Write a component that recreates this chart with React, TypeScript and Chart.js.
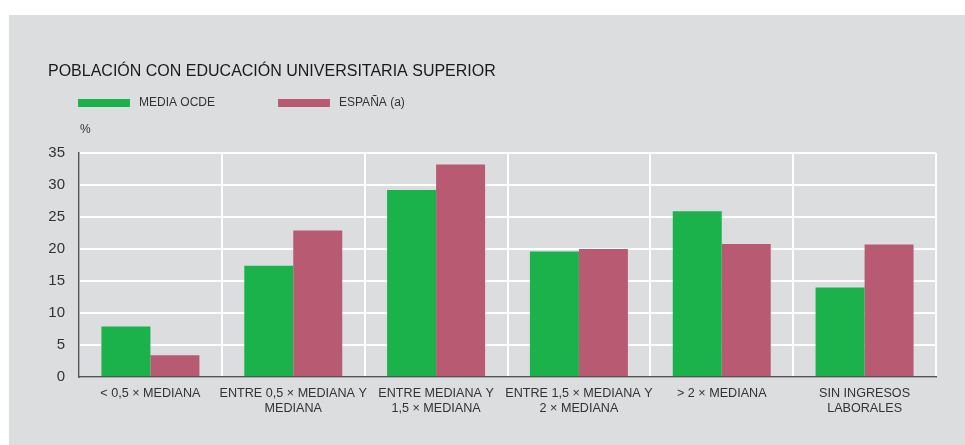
import React, { useEffect, useRef } from "react";
import { Chart, registerables } from "chart.js";

Chart.register(...registerables);

const titleText = "POBLACIÓN CON EDUCACIÓN UNIVERSITARIA SUPERIOR";
const unitLabel = "%";
const categories: string[][] = [
  ["< 0,5 × MEDIANA"],
  ["ENTRE 0,5 × MEDIANA Y", "MEDIANA"],
  ["ENTRE MEDIANA Y", "1,5 × MEDIANA"],
  ["ENTRE 1,5 × MEDIANA Y", "2 × MEDIANA"],
  ["> 2 × MEDIANA"],
  ["SIN INGRESOS", "LABORALES"],
];
const seriesNames = ["MEDIA OCDE", "ESPAÑA (a)"];
const ocdeValues = [7.9, 17.4, 29.2, 19.6, 25.9, 14.0];
const espanaValues = [3.4, 22.9, 33.2, 20.0, 20.8, 20.7];
const yTicks = [0, 5, 10, 15, 20, 25, 30, 35];

const FONT = "'Liberation Sans', Arial, sans-serif";
const GREEN = "#1bb24c";
const PINK = "#b95a73";

const headerPlugin = {
  id: "header",
  afterDraw(chart: any) {
    const ctx = chart.ctx;
    ctx.save();
    ctx.fillStyle = "#1a1a1a";
    ctx.font = `16px ${FONT}`;
    ctx.textBaseline = "middle";
    ctx.textAlign = "left";
    ctx.fillText(titleText, 39, 57);
    const items = [
      { x: 69, color: GREEN, label: chart.data.datasets[0].label },
      { x: 269, color: PINK, label: chart.data.datasets[1].label },
    ];
    ctx.font = `12px ${FONT}`;
    items.forEach((it) => {
      ctx.fillStyle = it.color;
      ctx.fillRect(it.x, 84, 52, 8);
      ctx.fillStyle = "#333";
      ctx.fillText(it.label, it.x + 61, 88);
    });
    ctx.fillStyle = "#333";
    ctx.fillText(unitLabel, 71, 115);
    ctx.restore();
  },
};

export default function App() {
  const ref = useRef<HTMLCanvasElement>(null);
  useEffect(() => {
    if (!ref.current) return;
    const chart = new Chart(ref.current, {
      type: "bar",
      data: {
        labels: categories,
        datasets: [
          {
            label: seriesNames[0],
            data: ocdeValues,
            backgroundColor: GREEN,
            borderWidth: 0,
            categoryPercentage: 0.686,
            barPercentage: 1,
          },
          {
            label: seriesNames[1],
            data: espanaValues,
            backgroundColor: PINK,
            borderWidth: 0,
            categoryPercentage: 0.686,
            barPercentage: 1,
          },
        ],
      },
      options: {
        responsive: false,
        animation: false,
        layout: { padding: { left: 0, right: 29, top: 138, bottom: 0 } },
        plugins: {
          legend: { display: false },
          title: { display: false },
          tooltip: { enabled: false },
        },
        scales: {
          x: {
            grid: { color: "#ffffff", lineWidth: 2, drawTicks: false, offset: true },
            border: { display: true, color: "#555555", width: 1.5 },
            ticks: {
              color: "#333",
              font: { family: FONT, size: 12.6 },
              padding: 9,
              maxRotation: 0,
              autoSkip: false,
            },
            afterFit: (s: any) => {
              s.height = 68;
            },
          },
          y: {
            min: 0,
            max: 35,
            afterBuildTicks: (s: any) => {
              s.ticks = yTicks.map((v) => ({ value: v }));
            },
            grid: { color: "#ffffff", lineWidth: 2, drawTicks: false },
            border: { display: true, color: "#555555", width: 1.5 },
            ticks: {
              color: "#333",
              font: { family: FONT, size: 15 },
              padding: 14,
            },
            afterFit: (s: any) => {
              s.width = 70;
            },
          },
        },
      },
      plugins: [headerPlugin],
    });
    return () => chart.destroy();
  }, []);
  return (
    <div
      style={{
        position: "absolute",
        left: 9,
        top: 15,
        width: 956,
        height: 430,
        background: "#dcdddf",
      }}
    >
      <canvas ref={ref} width={956} height={430} style={{ display: "block" }} />
    </div>
  );
}
